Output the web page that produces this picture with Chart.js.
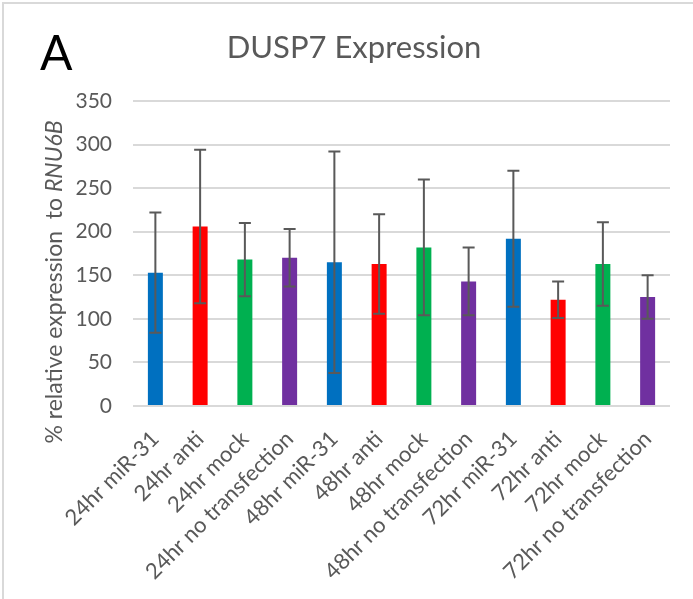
<!DOCTYPE html>
<html>
<head>
<meta charset="utf-8">
<script src="https://cdn.jsdelivr.net/npm/chart.js@4"></script>
<style>
  html, body { margin: 0; padding: 0; background: #fff; }
  canvas { display: block; }
</style>
</head>
<body>
<canvas id="dusp7Chart" width="693" height="599"></canvas>
<script>
// Data
const categories = [
    '24hr miR-31', '24hr anti', '24hr mock', '24hr no transfection',
    '48hr miR-31', '48hr anti', '48hr mock', '48hr no transfection',
    '72hr miR-31', '72hr anti', '72hr mock', '72hr no transfection'
];
const expression = [153, 206, 168, 170, 165, 163, 182, 143, 192, 122, 163, 125];
const errorSD = [69, 88, 42, 33, 127, 57, 78, 39, 78, 21, 48, 25];
const barColors = [
    '#0070C0', '#FF0000', '#00B050', '#7030A0',
    '#0070C0', '#FF0000', '#00B050', '#7030A0',
    '#0070C0', '#FF0000', '#00B050', '#7030A0'
];
const yTicks = [0, 50, 100, 150, 200, 250, 300, 350];

const FONT = "Lato, 'Open Sans', sans-serif";
const GREY = '#595959';

// error bars, drawn with the y scale
const errorBarPlugin = {
    id: 'errorBars',
    afterDatasetsDraw(chart) {
        const ctx = chart.ctx;
        const y = chart.scales.y;
        const meta = chart.getDatasetMeta(0);
        ctx.save();
        ctx.strokeStyle = GREY;
        ctx.lineWidth = 2;
        meta.data.forEach((bar, i) => {
            const top = y.getPixelForValue(expression[i] + errorSD[i]);
            const bot = y.getPixelForValue(expression[i] - errorSD[i]);
            ctx.beginPath();
            ctx.moveTo(bar.x, top);
            ctx.lineTo(bar.x, bot);
            ctx.moveTo(bar.x - 6, top);
            ctx.lineTo(bar.x + 6, top);
            ctx.moveTo(bar.x - 6, bot);
            ctx.lineTo(bar.x + 6, bot);
            ctx.stroke();
        });
        ctx.restore();
    }
};

// panel letter, title, y axis title (with italic gene name), frame
const textPlugin = {
    id: 'figureText',
    afterDraw(chart) {
        const ctx = chart.ctx;
        ctx.save();
        // frame lines on top and left
        ctx.strokeStyle = '#d9d9d9';
        ctx.lineWidth = 2;
        ctx.beginPath();
        ctx.moveTo(3, 599);
        ctx.lineTo(3, 3);
        ctx.lineTo(693, 3);
        ctx.stroke();

        ctx.fillStyle = '#000';
        ctx.font = '48px ' + FONT;
        ctx.textAlign = 'left';
        ctx.textBaseline = 'alphabetic';
        ctx.fillText('A', 40, 70);

        ctx.fillStyle = GREY;
        ctx.font = '31px ' + FONT;
        ctx.textAlign = 'center';
        ctx.fillText('DUSP7 Expression', 354, 58);

        // y axis title
        const part1 = '% relative expression  to ';
        const part2 = 'RNU6B';
        const f1 = '23px ' + FONT;
        const f2 = 'italic 23px ' + FONT;
        ctx.font = f1;
        const w1 = ctx.measureText(part1).width;
        ctx.font = f2;
        const w2 = ctx.measureText(part2).width;
        const cy = 282;
        ctx.translate(62, cy);
        ctx.rotate(-Math.PI / 2);
        ctx.textAlign = 'left';
        ctx.font = f1;
        ctx.fillText(part1, -(w1 + w2) / 2, 0);
        ctx.font = f2;
        ctx.fillText(part2, -(w1 + w2) / 2 + w1, 0);
        ctx.restore();
    }
};

new Chart(document.getElementById('dusp7Chart'), {
    type: 'bar',
    data: {
        labels: categories,
        datasets: [{
            data: expression,
            backgroundColor: barColors,
            borderWidth: 0,
            categoryPercentage: 1,
            barPercentage: 0.335
        }]
    },
    options: {
        responsive: false,
        animation: false,
        layout: { padding: { top: 101, right: 23, left: 0, bottom: 0 } },
        plugins: {
            legend: { display: false },
            tooltip: { enabled: false }
        },
        scales: {
            x: {
                grid: { display: false },
                border: { display: false },
                ticks: {
                    color: GREY,
                    font: { family: FONT, size: 22 },
                    autoSkip: false,
                    minRotation: 45,
                    maxRotation: 45,
                    padding: 12
                },
                afterFit: (scale) => { scale.height = 193; }
            },
            y: {
                min: 0,
                max: 350,
                afterBuildTicks: (scale) => { scale.ticks = yTicks.map(v => ({ value: v })); },
                grid: { color: '#d9d9d9', lineWidth: 2, drawTicks: false },
                border: { display: false },
                ticks: {
                    color: GREY,
                    font: { family: FONT, size: 21 },
                    padding: 21
                },
                afterFit: (scale) => { scale.width = 133; }
            }
        }
    },
    plugins: [errorBarPlugin, textPlugin]
});
</script>
</body>
</html>
